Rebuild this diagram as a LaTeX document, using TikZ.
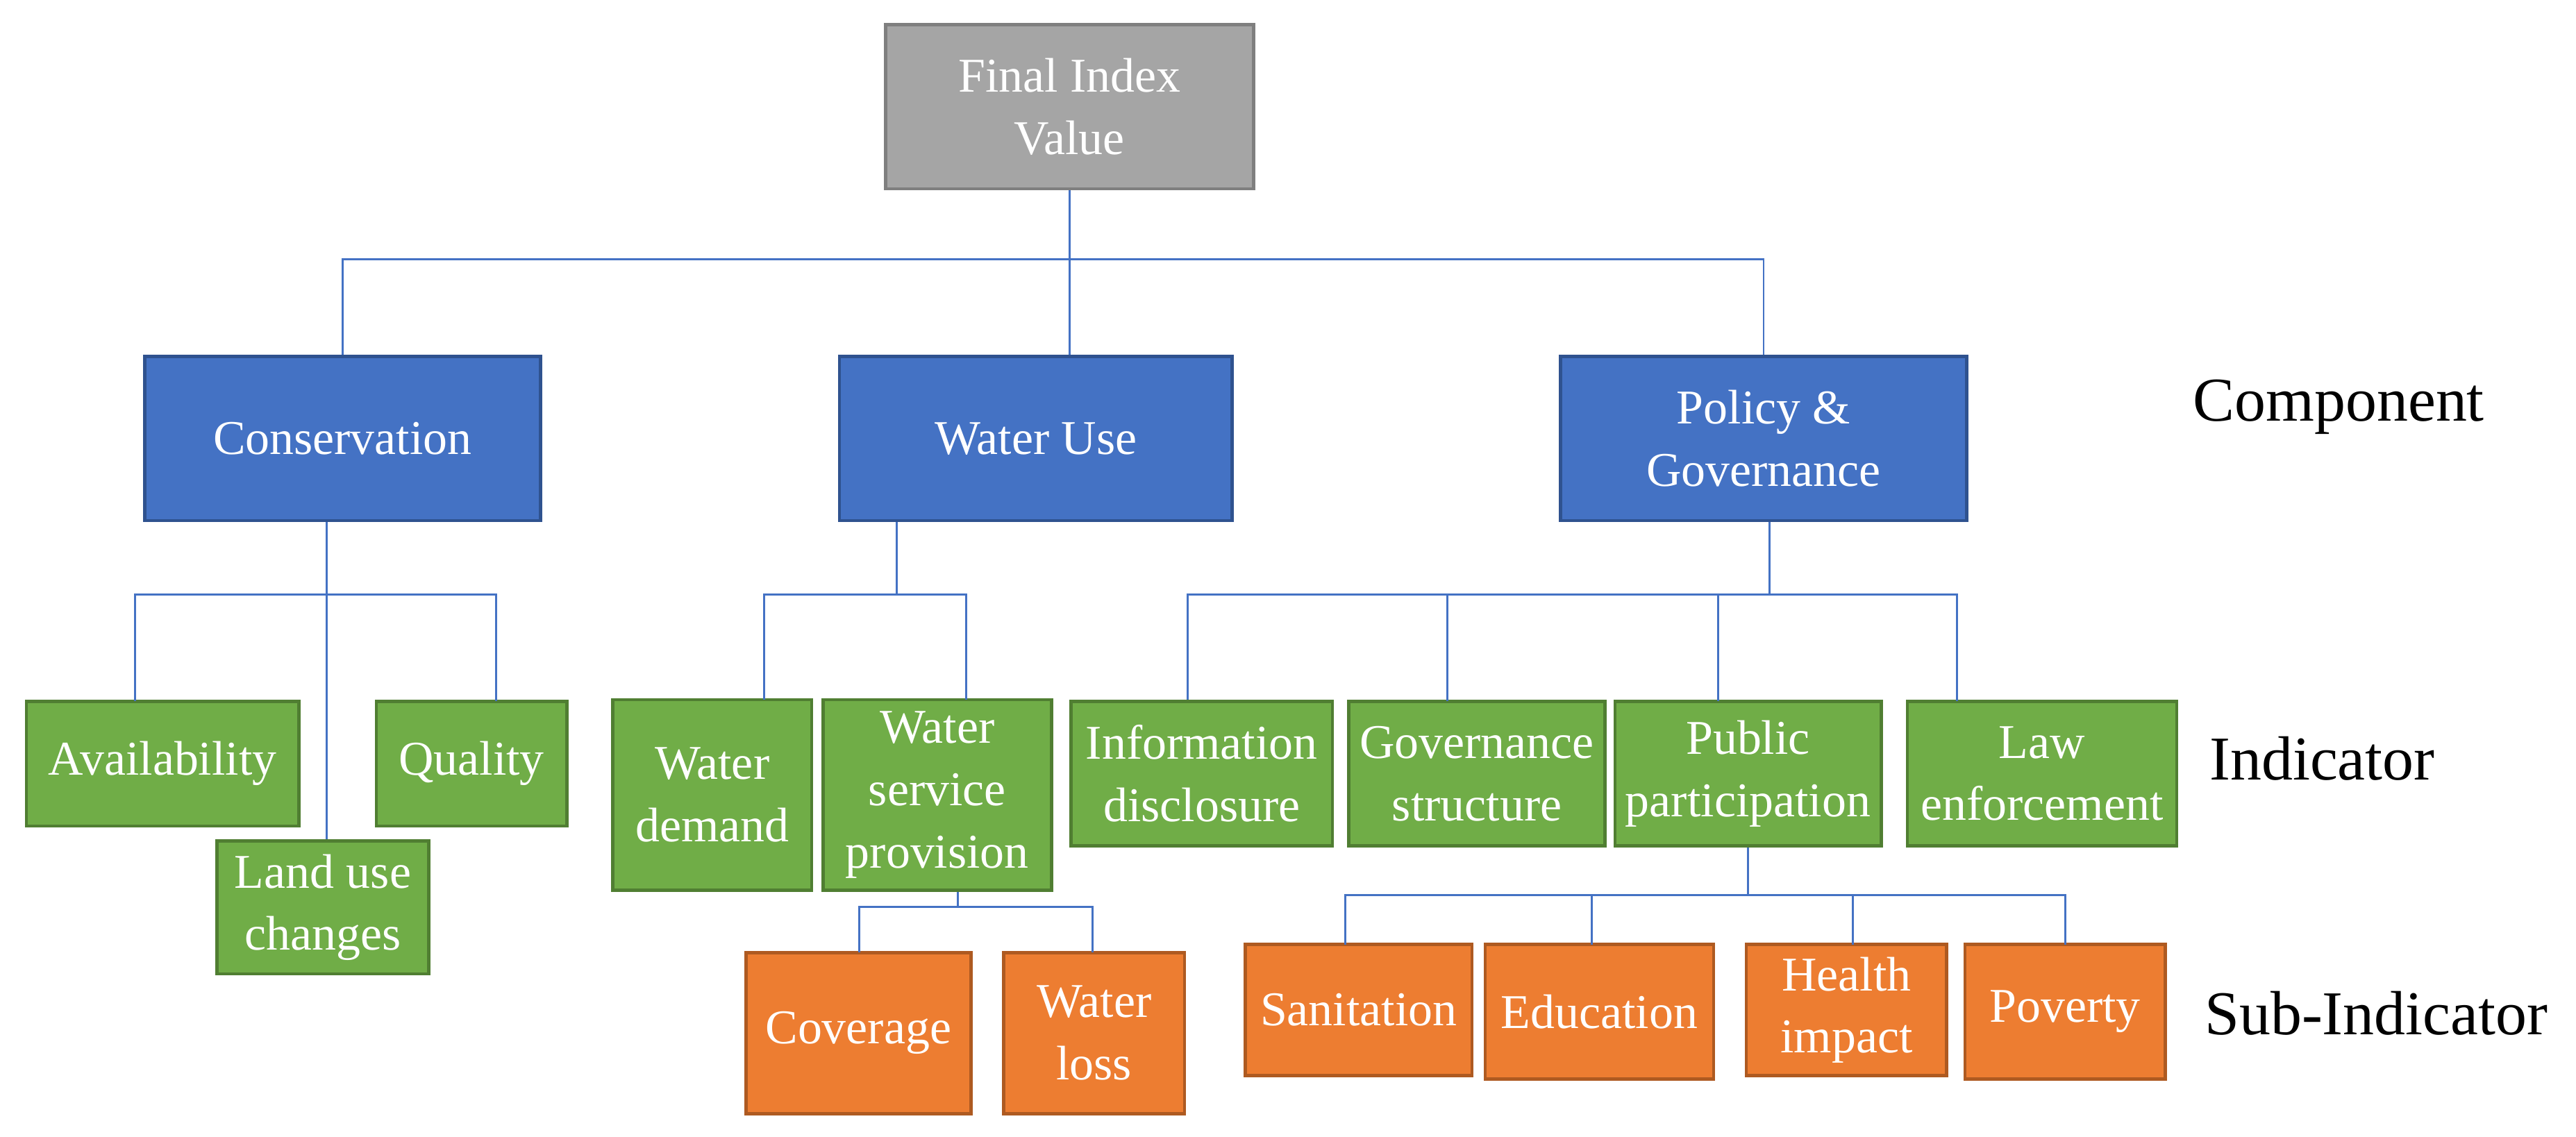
\documentclass[tikz,border=0pt]{standalone}
\usepackage{fontspec}
\setmainfont{Liberation Serif}
\newdimen\U \U=0.025cm
\definecolor{gfill}{HTML}{A5A5A5}\definecolor{gline}{HTML}{7F7F7F}
\definecolor{bfill}{HTML}{4472C4}\definecolor{bline}{HTML}{2F528F}
\definecolor{grfill}{HTML}{70AD47}\definecolor{grline}{HTML}{507E32}
\definecolor{ofill}{HTML}{ED7D31}\definecolor{oline}{HTML}{AE5A21}
\begin{document}
\begin{tikzpicture}[x=0.025cm,y=-0.025cm,
 box/.style={draw,line width=1.4pt,text=white,align=center,inner sep=0pt,font=\fontsize{21}{27}\selectfont},
 gray/.style={box,fill=gfill,draw=gline},
 blue/.style={box,fill=bfill,draw=bline},
 green/.style={box,fill=grfill,draw=grline},
 orange/.style={box,fill=ofill,draw=oline},
 wh/.style args={#1x#2}{minimum width=#1*\U,minimum height=#2*\U},
 ln/.style={draw=bfill,line width=0.9pt},
 lab/.style={font=\fontsize{27}{32}\selectfont,anchor=west}]
\useasboundingbox (0,0) rectangle (1568,692);
\node[gray,wh=224x100] (fin) at (651,65) {Final Index\\Value};
\node[blue,wh=241x100] (con) at (208.5,267) {Conservation};
\node[blue,wh=239x100] (wu) at (630.5,267) {Water Use};
\node[blue,wh=247x100] (pol) at (1073.5,267) {Policy \&\\Governance};
\node[green,wh=166x76] (av) at (99,465) {Availability};
\node[green,wh=116x76] (qu) at (287,465) {Quality};
\node[green,wh=129x81] (lu) at (196.5,552.5) {Land use\\changes};
\node[green,wh=121x116] (wd) at (433.5,484) {Water\\demand};
\node[green,wh=139x116] (ws) at (570.5,484) {Water\\service\\provision};
\node[green,wh=159x88] (id) at (731.5,471) {Information\\disclosure};
\node[green,wh=156x88] (gs) at (899,471) {Governance\\structure};
\node[green,wh=162x88] (pp) at (1064,471) {Public\\participation};
\node[green,wh=164x88] (le) at (1243,471) {Law\\enforcement};
\node[orange,wh=137x98] (cov) at (522.5,629) {Coverage};
\node[orange,wh=110x98] (wl) at (666,629) {Water\\loss};
\node[orange,wh=138x80] (san) at (827,615) {Sanitation};
\node[orange,wh=139x82] (edu) at (973.5,616) {Education};
\node[orange,wh=122x80] (hi) at (1124,615) {Health\\impact};
\node[orange,wh=122x82] (pov) at (1257,616) {Poverty};
\node[lab] (l1) at (1330,248) {Component};
\node[lab] (l2) at (1340,462) {Indicator};
\node[lab] (l3) at (1337,617) {Sub-Indicator};
% connectors
\coordinate (j0) at (651,158);
\draw[ln] (fin.south) -- (j0);
\draw[ln] (j0) -| (con.north);
\draw[ln] (j0) -- (wu.north-|j0);
\draw[ln] (j0) -| (pol.north);
\coordinate (j1) at (199,362);
\draw[ln] (con.south-|j1) -- (j1) -- (lu.north-|j1);
\draw[ln] (j1) -| (82,427);
\draw[ln] (j1) -| (302,427);
\coordinate (j2) at (546,362);
\draw[ln] (wu.south-|j2) -- (j2);
\draw[ln] (j2) -| (465,426);
\draw[ln] (j2) -| (588,426);
\coordinate (j3) at (1077,362);
\draw[ln] (pol.south-|j3) -- (j3);
\draw[ln] (j3) -| (id.north-|723,0);
\draw[ln] (j3) -| (881,427);
\draw[ln] (j3) -| (1046,427);
\draw[ln] (j3) -| (1191,427);
\coordinate (j4) at (583,552);
\draw[ln] (ws.south-|j4) -- (j4);
\draw[ln] (j4) -| (523,580);
\draw[ln] (j4) -| (665,580);
\coordinate (j5) at (1064,545);
\draw[ln] (pp.south) -- (j5);
\draw[ln] (j5) -| (819,575);
\draw[ln] (j5) -| (969,575);
\draw[ln] (j5) -| (1128,575);
\draw[ln] (j5) -| (1257,575);
\end{tikzpicture}
\end{document}
